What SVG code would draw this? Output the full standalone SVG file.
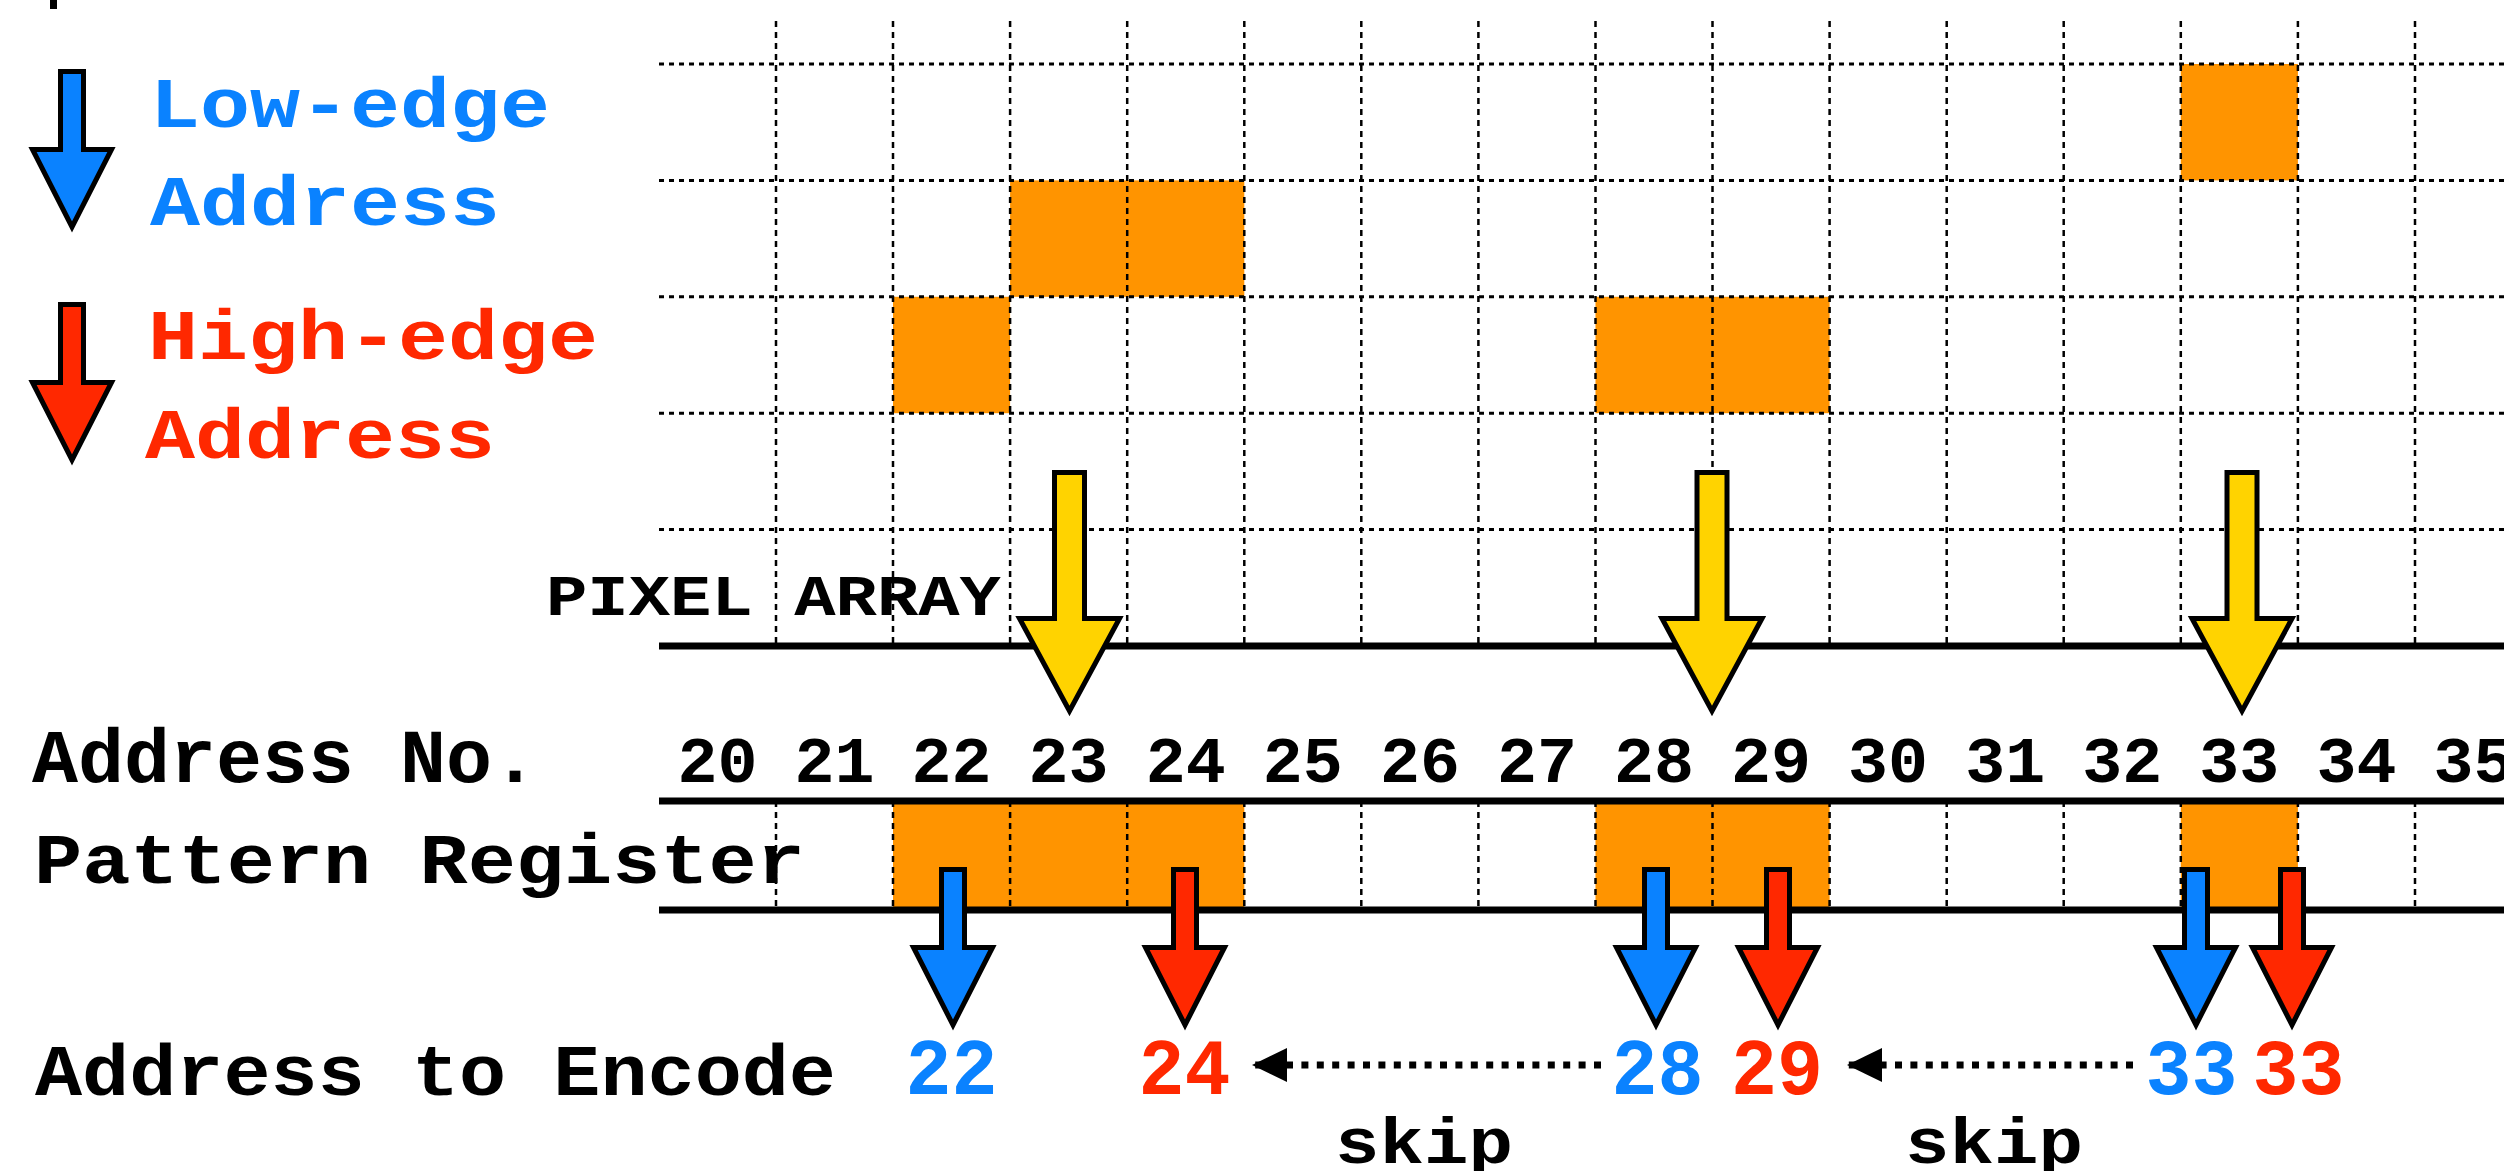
<svg xmlns="http://www.w3.org/2000/svg" xmlns:xlink="http://www.w3.org/1999/xlink" width="2504" height="1171" viewBox="0 0 2504 1171">
  <style>
    .t { font-family: "Liberation Mono", "DejaVu Sans Mono", monospace; font-weight: bold; }
    .blk { fill: #000; }
    .blue { fill: #0A82FF; }
    .red { fill: #FF2800; }
    .cell { fill: #FF9400; }
    .hgrid { fill: none; stroke: #000; stroke-width: 3; stroke-dasharray: 5 5; }
    .vgrid { fill: none; stroke: #000; stroke-width: 2.5; stroke-dasharray: 6 5; }
    .rule { fill: none; stroke: #000; stroke-width: 7; }
    .arr { stroke: #000; stroke-width: 5; stroke-linejoin: miter; stroke-miterlimit: 10; }
    .skip { fill: none; stroke: #000; stroke-width: 7; stroke-dasharray: 7 8.4; }
  </style>
  <defs>
    <!-- small pointer used by the legend and the pattern register -->
    <path id="ptr" class="arr" d="M -11.5,2.5 H 11.5 V 80.5 H 39.5 L 0,158 L -39.5,80.5 H -11.5 Z"/>
    <!-- large pointer from the pixel array -->
    <path id="bigPtr" class="arr" d="M -15,2.5 H 15 V 148.5 H 50 L 0,241 L -50,148.5 H -15 Z"/>
    <marker id="skipHead" markerUnits="userSpaceOnUse" markerWidth="36" markerHeight="36" viewBox="0 -18 36 36" refX="34" refY="0" orient="auto">
      <path d="M0,-17 L35,0 L0,17 Z" fill="#000"/>
    </marker>
  </defs>

  <rect width="2504" height="1171" fill="#fff"/>
  <rect x="50" y="0" width="7" height="9" fill="#000"/>

  <!-- legend -->
  <g id="legend">
    <use xlink:href="#ptr" x="72" y="69" fill="#0A82FF"/>
    <text class="t blue" x="150" y="127" font-size="71" textLength="400" lengthAdjust="spacingAndGlyphs">Low-edge</text>
    <text class="t blue" x="150" y="225" font-size="71" textLength="350" lengthAdjust="spacingAndGlyphs">Address</text>
    <use xlink:href="#ptr" x="72" y="302" fill="#FF2800"/>
    <text class="t red" x="148" y="359" font-size="71" textLength="450" lengthAdjust="spacingAndGlyphs">High-edge</text>
    <text class="t red" x="145" y="458" font-size="71" textLength="350" lengthAdjust="spacingAndGlyphs">Address</text>
  </g>

  <!-- pixel array -->
  <g id="pixel-array">
    <rect class="cell" x="2180.8" y="64" width="117.1" height="116.4"/>
    <rect class="cell" x="1010.1" y="180.4" width="234.2" height="116.4"/>
    <rect class="cell" x="893" y="296.8" width="117.1" height="116.4"/>
    <rect class="cell" x="1595.5" y="296.8" width="234.1" height="116.4"/>
    <path class="hgrid" d="M659,64 H2504 M659,180.4 H2504 M659,296.8 H2504 M659,413.2 H2504 M659,529.6 H2504"/>
    <path class="vgrid" d="M776,21 V646 M893,21 V646 M1010.1,21 V646 M1127.2,21 V646 M1244.3,21 V646 M1361.3,21 V646 M1478.4,21 V646 M1595.5,21 V646 M1712.5,21 V646 M1829.6,21 V646 M1946.7,21 V646 M2063.7,21 V646 M2180.8,21 V646 M2297.9,21 V646 M2415,21 V646"/>
    <text class="t blk" x="546" y="615" font-size="58" textLength="455" lengthAdjust="spacingAndGlyphs">PIXEL ARRAY</text>
  </g>

  <!-- address numbers -->
  <g id="address-no">
    <text class="t blk" x="32" y="782" font-size="76" textLength="506" lengthAdjust="spacingAndGlyphs">Address No.</text>
    <g class="t blk" font-size="64" text-anchor="middle">
      <text x="717.4" y="782" textLength="80" lengthAdjust="spacingAndGlyphs">20</text>
      <text x="834.5" y="782" textLength="80" lengthAdjust="spacingAndGlyphs">21</text>
      <text x="951.5" y="782" textLength="80" lengthAdjust="spacingAndGlyphs">22</text>
      <text x="1068.6" y="782" textLength="80" lengthAdjust="spacingAndGlyphs">23</text>
      <text x="1185.7" y="782" textLength="80" lengthAdjust="spacingAndGlyphs">24</text>
      <text x="1302.8" y="782" textLength="80" lengthAdjust="spacingAndGlyphs">25</text>
      <text x="1419.9" y="782" textLength="80" lengthAdjust="spacingAndGlyphs">26</text>
      <text x="1537" y="782" textLength="80" lengthAdjust="spacingAndGlyphs">27</text>
      <text x="1654" y="782" textLength="80" lengthAdjust="spacingAndGlyphs">28</text>
      <text x="1771.1" y="782" textLength="80" lengthAdjust="spacingAndGlyphs">29</text>
      <text x="1888.1" y="782" textLength="80" lengthAdjust="spacingAndGlyphs">30</text>
      <text x="2005.2" y="782" textLength="80" lengthAdjust="spacingAndGlyphs">31</text>
      <text x="2122.2" y="782" textLength="80" lengthAdjust="spacingAndGlyphs">32</text>
      <text x="2239.3" y="782" textLength="80" lengthAdjust="spacingAndGlyphs">33</text>
      <text x="2356.4" y="782" textLength="80" lengthAdjust="spacingAndGlyphs">34</text>
      <text x="2473.5" y="782" textLength="80" lengthAdjust="spacingAndGlyphs">35</text>
    </g>
  </g>

  <!-- pattern register -->
  <g id="pattern-register">
    <rect class="cell" x="893" y="801" width="351.3" height="109"/>
    <rect class="cell" x="1595.5" y="801" width="234.1" height="109"/>
    <rect class="cell" x="2180.8" y="801" width="117.1" height="109"/>
    <path class="vgrid" d="M776,801 V910 M893,801 V910 M1010.1,801 V910 M1127.2,801 V910 M1244.3,801 V910 M1361.3,801 V910 M1478.4,801 V910 M1595.5,801 V910 M1712.5,801 V910 M1829.6,801 V910 M1946.7,801 V910 M2063.7,801 V910 M2180.8,801 V910 M2297.9,801 V910 M2415,801 V910"/>
    <text class="t blk" x="34" y="883" font-size="71" textLength="771" lengthAdjust="spacingAndGlyphs">Pattern Register</text>
  </g>

  <!-- horizontal rules -->
  <g id="rules">
    <path class="rule" d="M659,646 H2504 M659,801 H2504 M659,910 H2504"/>
  </g>

  <!-- pointers from pixel array to address -->
  <g id="pixel-pointers">
    <use xlink:href="#bigPtr" x="1069.5" y="470" fill="#FFD300"/>
    <use xlink:href="#bigPtr" x="1712" y="470" fill="#FFD300"/>
    <use xlink:href="#bigPtr" x="2242" y="470" fill="#FFD300"/>
  </g>

  <!-- edge pointers from the pattern register -->
  <g id="edge-pointers">
    <use xlink:href="#ptr" x="953" y="867" fill="#0A82FF"/>
    <use xlink:href="#ptr" x="1185" y="867" fill="#FF2800"/>
    <use xlink:href="#ptr" x="1656" y="867" fill="#0A82FF"/>
    <use xlink:href="#ptr" x="1778" y="867" fill="#FF2800"/>
    <use xlink:href="#ptr" x="2196" y="867" fill="#0A82FF"/>
    <use xlink:href="#ptr" x="2292" y="867" fill="#FF2800"/>
  </g>

  <!-- encoded addresses -->
  <g id="encode">
    <text class="t blk" x="35" y="1095" font-size="73" textLength="801" lengthAdjust="spacingAndGlyphs">Address to Encode</text>
    <g class="t" font-size="80" text-anchor="middle">
      <text class="blue" x="951.5" y="1094" textLength="92" lengthAdjust="spacingAndGlyphs">22</text>
      <text class="red" x="1184.5" y="1094" textLength="92" lengthAdjust="spacingAndGlyphs">24</text>
      <text class="blue" x="1657.5" y="1094" textLength="92" lengthAdjust="spacingAndGlyphs">28</text>
      <text class="red" x="1777" y="1094" textLength="92" lengthAdjust="spacingAndGlyphs">29</text>
      <text class="blue" x="2191.5" y="1094" textLength="92" lengthAdjust="spacingAndGlyphs">33</text>
      <text class="red" x="2298.5" y="1094" textLength="92" lengthAdjust="spacingAndGlyphs">33</text>
    </g>
    <text class="t blk" x="1335" y="1163" font-size="64" textLength="178" lengthAdjust="spacingAndGlyphs">skip</text>
    <text class="t blk" x="1905" y="1163" font-size="64" textLength="178" lengthAdjust="spacingAndGlyphs">skip</text>
  </g>

  <!-- skip connectors -->
  <g id="connectors">
    <path class="skip" d="M1601,1065 H1253" marker-end="url(#skipHead)"/>
    <path class="skip" d="M2133,1065 H1848" marker-end="url(#skipHead)"/>
  </g>
</svg>
